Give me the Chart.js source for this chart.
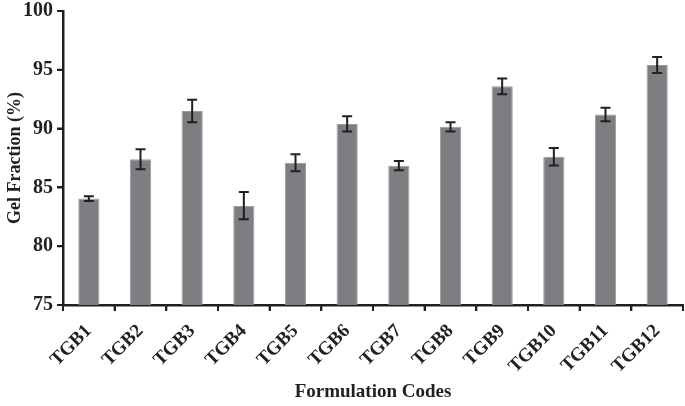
<!DOCTYPE html>
<html>
<head>
<meta charset="utf-8">
<script src="https://cdn.jsdelivr.net/npm/chart.js@4"></script>
<style>
  html, body { margin: 0; padding: 0; background: #fff; }
  #wrap { width: 685px; height: 406px; position: relative; }
</style>
</head>
<body>
<div id="wrap"><canvas id="c" width="685" height="406"></canvas></div>
<script>
const categories = ["TGB1", "TGB2", "TGB3", "TGB4", "TGB5", "TGB6", "TGB7", "TGB8", "TGB9", "TGB10", "TGB11", "TGB12"];
const gelFraction = [84.05, 87.4, 91.5, 83.45, 87.1, 90.4, 86.85, 90.15, 93.6, 87.6, 91.2, 95.4];
const gelError = [0.2, 0.85, 0.95, 1.15, 0.72, 0.65, 0.4, 0.4, 0.67, 0.74, 0.57, 0.68];
const yMin = 75, yMax = 100, yStep = 5;

const ink = '#231f20';
const serif = "'Liberation Serif', 'Times New Roman', serif";

const errorBars = {
  id: 'errorBars',
  afterDatasetsDraw(chart) {
    const ctx = chart.ctx;
    const y = chart.scales.y;
    const meta = chart.getDatasetMeta(0);
    ctx.save();
    ctx.strokeStyle = ink;
    ctx.lineWidth = 2;
    meta.data.forEach((bar, i) => {
      const v = gelFraction[i], e = gelError[i];
      const yTop = y.getPixelForValue(v + e);
      const yBot = y.getPixelForValue(v - e);
      const x = bar.x;
      const cap = 5;
      ctx.beginPath();
      ctx.moveTo(x, yTop); ctx.lineTo(x, yBot);
      ctx.moveTo(x - cap, yTop); ctx.lineTo(x + cap, yTop);
      ctx.moveTo(x - cap, yBot); ctx.lineTo(x + cap, yBot);
      ctx.stroke();
    });
    ctx.restore();
  }
};

// outward tick marks on both axes, placed from the scales
const tickMarks = {
  id: 'tickMarks',
  afterDraw(chart) {
    const ctx = chart.ctx;
    const xs = chart.scales.x, ys = chart.scales.y;
    const len = 6;
    ctx.save();
    ctx.strokeStyle = ink;
    ctx.lineWidth = 2;
    ctx.beginPath();
    const n = categories.length;
    const half = (xs.right - xs.left) / n / 2;
    const yb = ys.bottom;
    for (let i = 0; i <= n; i++) {
      const px = i < n ? xs.getPixelForValue(i) - half : xs.getPixelForValue(n - 1) + half;
      ctx.moveTo(px, yb); ctx.lineTo(px, yb + len);
    }
    const xl = xs.left;
    ys.ticks.forEach(t => {
      const py = ys.getPixelForValue(t.value);
      ctx.moveTo(xl, py); ctx.lineTo(xl - len, py);
    });
    ctx.stroke();
    ctx.restore();
  }
};

new Chart(document.getElementById('c'), {
  type: 'bar',
  data: {
    labels: categories,
    datasets: [{
      data: gelFraction,
      backgroundColor: '#7d7e81',
      borderColor: '#9a9b9e',
      borderWidth: { left: 1, right: 1, top: 1, bottom: 0 },
      barPercentage: 0.41,
      categoryPercentage: 1.0
    }]
  },
  options: {
    responsive: false,
    animation: false,
    devicePixelRatio: 1,
    layout: { padding: { top: 11, right: 2, left: 5, bottom: 0 } },
    plugins: { legend: { display: false }, tooltip: { enabled: false } },
    scales: {
      x: {
        offset: true,
        afterFit(scale) { scale.height = 101; scale.paddingLeft = 0; scale.paddingRight = 0; },
        border: { display: true, color: ink, width: 2.5 },
        grid: { display: true, drawOnChartArea: false, drawTicks: true, offset: true, color: ink, tickColor: ink, tickWidth: 2, lineWidth: 2, tickLength: 6 },
        ticks: { minRotation: 45, maxRotation: 45, color: ink, padding: 9, font: { family: serif, size: 19, weight: 'bold' } },
        title: { display: true, text: 'Formulation Codes', color: ink, padding: { top: 0, bottom: 3 }, font: { family: serif, size: 19, weight: 'bold' } }
      },
      y: {
        min: yMin, max: yMax,
        afterFit(scale) { scale.width = 58; scale.paddingTop = 0; scale.paddingBottom = 0; },
        border: { display: true, color: ink, width: 2.5 },
        grid: { display: true, drawOnChartArea: false, drawTicks: true, color: ink, tickColor: ink, tickWidth: 2, lineWidth: 2, tickLength: 6 },
        ticks: { stepSize: yStep, color: ink, padding: 4, font: { family: serif, size: 20, weight: 'bold' } },
        title: { display: true, text: 'Gel Fraction (%)', color: ink, padding: { top: 0, bottom: 2 }, font: { family: serif, size: 18, weight: 'bold' } }
      }
    }
  },
  plugins: [errorBars, tickMarks]
});
</script>
</body>
</html>
